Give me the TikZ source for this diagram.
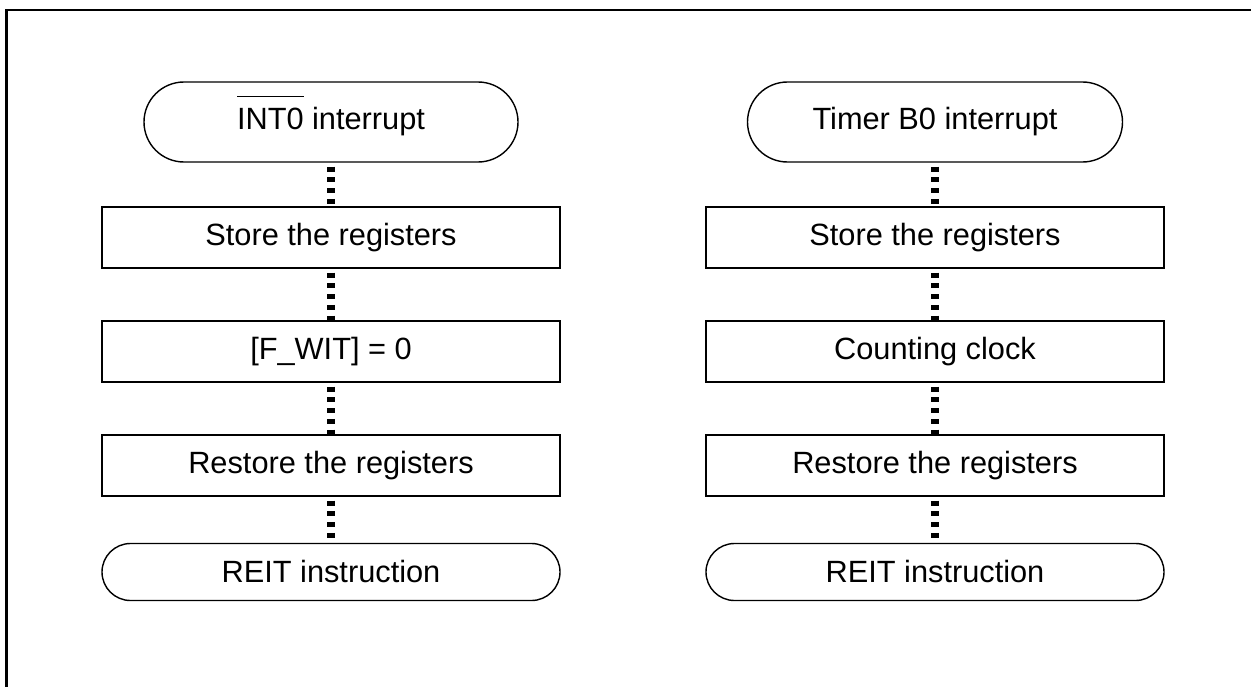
\documentclass[tikz,border=0pt]{standalone}
\usepackage{fontspec}
\setmainfont{Liberation Sans}
\usetikzlibrary{positioning,shapes.misc}
\newcommand{\barsig}[1]{\setbox0\hbox{#1}\rlap{\smash{\raisebox{19pt}{\rule{\wd0}{0.6pt}}}}#1}

\begin{document}
\begin{tikzpicture}[
  term/.style={draw,line width=0.8pt,rounded rectangle,rounded rectangle arc length=180,
    font=\fontsize{17.5}{21}\selectfont,inner sep=0pt},
  pbox/.style={draw,line width=0.8pt,minimum width=9.16cm,minimum height=1.22cm,
    font=\fontsize{17.5}{21}\selectfont,inner sep=0pt},
  dots/.style={line width=4pt,dash pattern=on 2.8pt off 3.3pt,dash phase=3.8pt}
]
  \useasboundingbox (0,0) rectangle (25.02,-13.74);
  \clip (0,0) rectangle (25.02,-13.74);
  \draw[line width=1.7pt] (0.13,-0.2) rectangle (25.5,-14.3);

  % INT0 routine
  \node[term,minimum width=7.48cm,minimum height=1.6cm] (int0) at (6.62,-2.44) {\barsig{INT0} interrupt};
  \node[pbox] (lstore) at (6.62,-4.75) {Store the registers};
  \node[pbox] (lwit) at (6.62,-7.03) {[F\_WIT] = 0};
  \node[pbox] (lrest) at (6.62,-9.31) {Restore the registers};
  \node[term,minimum width=9.16cm,minimum height=1.14cm] (lreit) at (6.62,-11.44) {REIT instruction};

  % Timer B0 routine
  \node[term,minimum width=7.5cm,minimum height=1.6cm] (tb0) at (18.7,-2.44) {Timer B0 interrupt};
  \node[pbox] (rstore) at (18.7,-4.75) {Store the registers};
  \node[pbox] (rcount) at (18.7,-7.03) {Counting clock};
  \node[pbox] (rrest) at (18.7,-9.31) {Restore the registers};
  \node[term,minimum width=9.16cm,minimum height=1.14cm] (rreit) at (18.7,-11.44) {REIT instruction};

  \draw[dots] (int0.south) -- (lstore.north);
  \draw[dots] (lstore.south) -- (lwit.north);
  \draw[dots] (lwit.south) -- (lrest.north);
  \draw[dots] (lrest.south) -- (lreit.north);
  \draw[dots] (tb0.south) -- (rstore.north);
  \draw[dots] (rstore.south) -- (rcount.north);
  \draw[dots] (rcount.south) -- (rrest.north);
  \draw[dots] (rrest.south) -- (rreit.north);
\end{tikzpicture}
\end{document}
